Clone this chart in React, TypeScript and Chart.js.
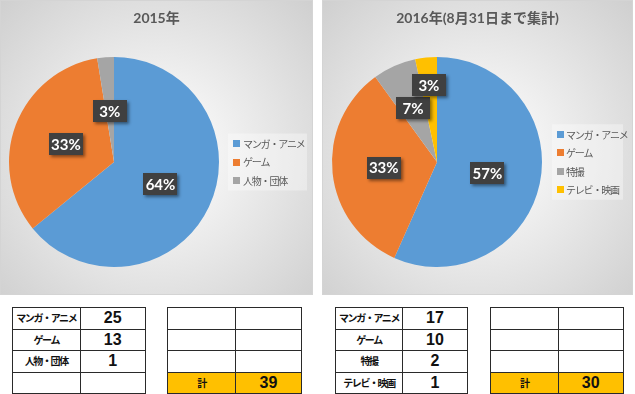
import React, { useEffect, useRef } from "react";
import { Chart, registerables } from "chart.js";
Chart.register(...registerables);

const title2015 = "2015年";
const categories2015 = ["マンガ・アニメ", "ゲーム", "人物・団体"];
const counts2015 = [25, 13, 1];
const total2015 = 39;

const title2016 = "2016年(8月31日まで集計)";
const categories2016 = ["マンガ・アニメ", "ゲーム", "特撮", "テレビ・映画"];
const counts2016 = [17, 10, 2, 1];
const total2016 = 30;

const totalLabel = "計";
const sliceColors = ["#5B9BD5", "#ED7D31", "#A5A5A5", "#FFC000"];

const CJK = "'Noto Sans CJK JP', 'Noto Sans', sans-serif";
const LATIN = "Lato, 'Noto Sans CJK JP', sans-serif";

const labelBoxPlugin = {
  id: "labelBoxes",
  afterDatasetsDraw(chart: any, _args: any, opts: any) {
    const meta = chart.getDatasetMeta(0);
    const data = chart.data.datasets[0].data as number[];
    const total = data.reduce((a, b) => a + b, 0);
    const ctx = chart.ctx;
    meta.data.forEach((arc: any, i: number) => {
      const p = arc.getProps(["x", "y", "startAngle", "endAngle", "outerRadius"], true);
      const mid = (p.startAngle + p.endAngle) / 2;
      const r = p.outerRadius * (opts.radii?.[i] ?? 0.49);
      const cx = p.x + Math.cos(mid) * r;
      const cy = p.y + Math.sin(mid) * r;
      const text = Math.round((data[i] / total) * 100) + "%";
      ctx.save();
      ctx.shadowColor = "rgba(0,0,0,0.45)";
      ctx.shadowBlur = 3;
      ctx.shadowOffsetX = 2;
      ctx.shadowOffsetY = 2;
      ctx.fillStyle = "#404040";
      ctx.fillRect(Math.round(cx - 17), Math.round(cy - 11), 34, 22);
      ctx.restore();
      ctx.save();
      ctx.fillStyle = "#ffffff";
      ctx.font = "bold 15px " + LATIN;
      ctx.textAlign = "center";
      ctx.textBaseline = "middle";
      ctx.fillText(text, cx, cy + 1);
      ctx.restore();
    });
  },
};

const sideLegendPlugin = {
  id: "sideLegend",
  afterDraw(chart: any, _args: any, opts: any) {
    const ctx = chart.ctx;
    // title, centred on the whole panel
    ctx.save();
    ctx.fillStyle = "#595959";
    ctx.font = "bold 14px " + LATIN;
    ctx.textAlign = "center";
    ctx.textBaseline = "middle";
    ctx.fillText(opts.title, chart.width / 2, 18);
    ctx.restore();

    const labels = chart.data.labels as string[];
    const colors = chart.data.datasets[0].backgroundColor as string[];
    const n = labels.length;
    const step = opts.step;
    const cy = (chart.chartArea.top + chart.chartArea.bottom) / 2;
    const y0 = cy - ((n - 1) * step) / 2;
    ctx.save();
    ctx.fillStyle = "rgba(255,255,255,0.35)";
    ctx.fillRect(opts.boxX - 5, y0 - 10, opts.bgRight - (opts.boxX - 5), (n - 1) * step + 20);
    ctx.font = "10px " + CJK;
    (ctx as any).letterSpacing = "-1.2px";
    ctx.textBaseline = "middle";
    ctx.textAlign = "left";
    labels.forEach((lab, i) => {
      const y = y0 + i * step;
      ctx.fillStyle = colors[i];
      ctx.fillRect(opts.boxX, Math.round(y - 3.5), 7, 7);
      ctx.fillStyle = "#595959";
      ctx.fillText(lab, opts.textX, y + 0.5);
    });
    ctx.restore();
  },
};

function PiePanel(props: {
  title: string;
  labels: string[];
  values: number[];
  width: number;
  height: number;
  padRight: number;
  radii: number[];
  legendBoxX: number;
  legendTextX: number;
  legendBgRight: number;
}) {
  const ref = useRef<HTMLCanvasElement>(null);
  useEffect(() => {
    if (!ref.current) return;
    const chart = new Chart(ref.current, {
      type: "pie",
      data: {
        labels: props.labels,
        datasets: [
          {
            data: props.values,
            backgroundColor: sliceColors.slice(0, props.values.length),
            borderWidth: 0,
          },
        ],
      },
      options: {
        responsive: false,
        animation: false,
        layout: { padding: { left: 0, right: props.padRight, top: 57, bottom: 28 } },
        plugins: {
          legend: { display: false },
          tooltip: { enabled: false },
          title: { display: false },
          labelBoxes: { radii: props.radii },
          sideLegend: {
            title: props.title,
            step: 18.5,
            boxX: props.legendBoxX,
            textX: props.legendTextX,
            bgRight: props.legendBgRight,
          },
        } as any,
      },
      plugins: [labelBoxPlugin, sideLegendPlugin],
    });
    return () => chart.destroy();
  }, []);
  return <canvas ref={ref} width={props.width} height={props.height} style={{ display: "block" }} />;
}

const cellBorder = "1px solid #2a2a2a";

function DataTable(props: {
  left: number;
  top: number;
  width: number;
  rows: [string, string][];
  highlightLast?: boolean;
}) {
  return (
    <table
      style={{
        position: "absolute",
        left: props.left,
        top: props.top,
        width: props.width,
        borderCollapse: "collapse",
        tableLayout: "fixed",
      }}
    >
      <tbody>
        {props.rows.map((r, i) => {
          const hl = props.highlightLast && i === props.rows.length - 1;
          return (
            <tr key={i} style={{ height: 21.5 }}>
              <td
                style={{
                  border: cellBorder,
                  padding: 0,
                  textAlign: "center",
                  fontFamily: CJK,
                  fontWeight: "bold",
                  fontSize: 10,
                  letterSpacing: -1.4,
                  color: "#111",
                  background: hl ? "#FFC000" : "#fff",
                  width: "50%",
                  lineHeight: "20px",
                }}
              >
                {r[0]}
              </td>
              <td
                style={{
                  border: cellBorder,
                  padding: 0,
                  textAlign: "center",
                  fontFamily: "'Liberation Sans Narrow', 'Liberation Sans', Arial, sans-serif",
                  fontWeight: "bold",
                  fontSize: 16,
                  color: "#111",
                  background: hl ? "#FFC000" : "#fff",
                  lineHeight: "20px",
                }}
              >
                {r[1]}
              </td>
            </tr>
          );
        })}
      </tbody>
    </table>
  );
}

const panelBg =
  "radial-gradient(circle farthest-corner at 50% 52%, #ffffff 0%, #f6f6f6 22%, #cfcfcf 100%)";

export default function App() {
  const rows2015: [string, string][] = categories2015.map((c, i) => [c, String(counts2015[i])]);
  while (rows2015.length < 4) rows2015.push(["", ""]);
  const rows2016: [string, string][] = categories2016.map((c, i) => [c, String(counts2016[i])]);
  const totalRows = (t: number): [string, string][] => [
    ["", ""],
    ["", ""],
    ["", ""],
    [totalLabel, String(t)],
  ];
  return (
    <div
      style={{
        position: "absolute",
        left: 0,
        top: 0,
        width: 635,
        height: 394,
        background: "#fff",
        overflow: "hidden",
      }}
    >
      <div
        style={{
          position: "absolute",
          left: 0,
          top: 0,
          width: 313,
          height: 295,
          background: panelBg,
          boxShadow: "inset 0 0 0 1px #d4d4d4",
        }}
      >
        <PiePanel
          title={title2015}
          labels={categories2015}
          values={counts2015}
          width={313}
          height={295}
          padRight={85}
          radii={[0.49, 0.49, 0.49]}
          legendBoxX={233}
          legendTextX={243}
          legendBgRight={307}
        />
      </div>
      <div
        style={{
          position: "absolute",
          left: 322,
          top: 0,
          width: 311,
          height: 295,
          background: panelBg,
          boxShadow: "inset 0 0 0 1px #d4d4d4",
        }}
      >
        <PiePanel
          title={title2016}
          labels={categories2016}
          values={counts2016}
          width={311}
          height={295}
          padRight={81}
          radii={[0.49, 0.51, 0.56, 0.74]}
          legendBoxX={235}
          legendTextX={244}
          legendBgRight={301}
        />
      </div>
      <DataTable left={12} top={307} width={134} rows={rows2015} />
      <DataTable left={167} top={307} width={135} rows={totalRows(total2015)} highlightLast />
      <DataTable left={335} top={307} width={133} rows={rows2016} />
      <DataTable left={490} top={307} width={134} rows={totalRows(total2016)} highlightLast />
    </div>
  );
}
